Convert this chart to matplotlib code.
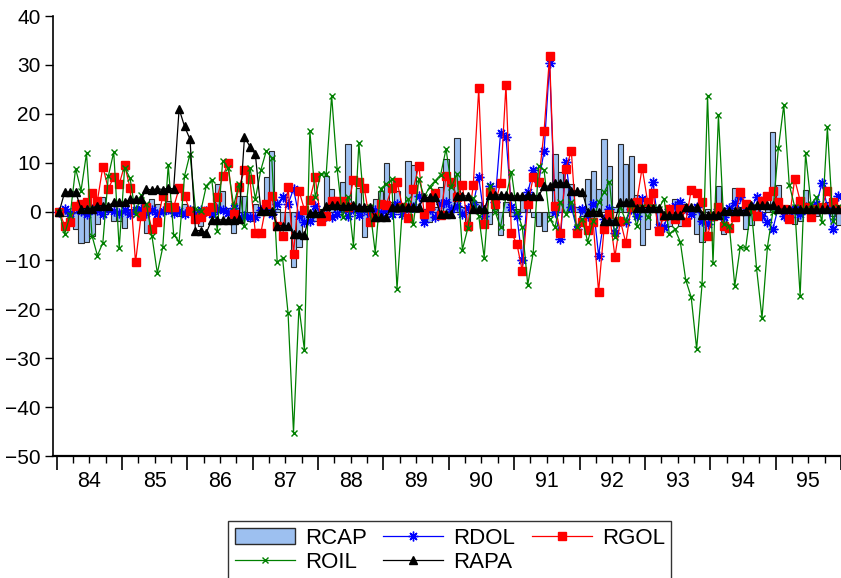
import numpy as np
import matplotlib.pyplot as plt
import matplotlib.patches as mpatches
from matplotlib.lines import Line2D

plt.rcParams['font.family'] = ['Liberation Sans', 'DejaVu Sans']

# monthly returns, Jan 1984 - Dec 1995
years = ['84', '85', '86', '87', '88', '89', '90', '91', '92', '93', '94', '95']

rcap = [0, -1, -1.5, -3.6, -6.4, -6.3, -5, -2.6, 3, 1, -2, -1.9,
        -3.4, 0.5, 1, -0.5, -4.3, 2.6, 1.5, 0.5, 2.2, 1, -0.9, 1.5,
        0.5, -1, -2.9, 1, 0.5, 5.6, 4.3, 0.8, -4.4, 3.2, 3.1, -1.9,
        1.5, 1, 7, 12.4, 0.5, -3, -3.5, -11.4, -7.3, -2.5, -0.5, -1.9,
        0.5, 7.2, 4.6, 1, 6.1, 13.8, 1.5, 4.9, -5.3, 1, 2.6, 4.3,
        9.9, 2, 4.3, 1, 10.4, 9.5, 1, 0.5, -2.2, 1, 5.1, 10.7,
        5.3, 15, 1, -2.6, 1.2, 1.9, 0.5, -2.6, 0.5, -4.8, 1.9, -1,
        0.5, 3.4, 1.2, -1.2, -2.9, -3.9, -1, 11.8, 8, 5.3, 5.6, 1,
        -1, 6.6, 8.2, 4.6, 14.8, 9.4, 1, 13.9, 9.7, 11.4, 3.4, -6.8,
        -3.6, 0.5, -2.6, -1, -2.9, 2.6, -2.9, 1.5, 0.5, -4.6, -6.3, 0.5,
        -1.2, 5.3, -4.6, 1, 4.9, 1, -3.6, -2.7, 1, -1, 1, 16.2,
        5.5, 1, 1, -2.6, -2, 4.4, 1, -1, 1, 2, -1, -2.8]

rdol = [0, 0.5, -0.3, 0.8, 0.2, -0.5, 0.6, 0.3, -0.4, 0.5, 0.2, -0.3,
        0.4, -0.6, 0.3, 0.5, -0.2, 0.4, -0.5, 0.2, 0.6, -0.3, 0.1, -0.4,
        0.3, -0.5, 0.4, 0.2, -0.6, 0.5, 0.3, -0.2, 0.8, -1.2, -1.0, -1.2,
        -1.2, 0.3, 0.5, -0.5, 1.5, 2.9, 1.5, 4.6, -0.9, -2.2, -1.9, 1.2,
        -0.9, -0.9, -1.2, -0.5, 0.8, -1.0, 0.5, -0.8, 0.6, -0.5, 0.3, -0.2,
        0.6, -0.4, 1.5, -0.5, 0.8, 1.0, 3.2, -2.2, 0.5, -1.2, 1.5, 1.9,
        0.5, 1.2, -0.5, 0.8, 1.5, 7, -1, 5.3, 2, 16, 15.3, 1,
        -0.9, -10, 3.9, 8.4, 6, 12.4, 30.4, 0, -5.6, 10.2, 1, -3.6,
        0.5, -1, 1.5, -9, -1.5, 0.5, -4.4, -2, -2.1, 0.5, -0.9, 2.6,
        1, 6, -3.2, -3.2, 0.5, 1.2, 2, 0.5, -0.5, 1, -1.9, -2.6,
        -1, 0.5, -1.2, 0.8, 1.7, 2.9, 1, 0.5, 2.9, -1, -2.2, -3.6,
        1, -0.9, -1.2, 0.5, -0.5, 1, 0.5, 1.5, 5.8, 1, -3.6, 3.2]

rgol = [0, -2.9, -2.2, 1.1, 1.5, 1.9, 3.7, 2.2, 9.2, 4.6, 7.1, 5.6,
        9.5, 4.8, -10.4, -1, 1, -3.6, -2.2, 3.2, 0.9, 0.9, 4.8, 3.2,
        0.2, -1.5, -1.2, 0.2, 1, 2.9, 7.2, 9.9, -0.5, 5.1, 8.4, 6.6,
        -4.4, -4.4, 1.5, 3.1, -3, -5.1, 5, -8.6, 4.3, 0.4, 2.4, 7,
        -1.9, -0.9, 2.1, 2.1, 2.2, 1.0, 6.5, 6.1, 4.8, -2.1, -1.2, 1.5,
        1.3, 4.8, 6.1, 1, -1.4, 4.6, 9.4, -0.5, 1.2, 3.8, -0.7, 7.2,
        6.1, 3, 5.4, -3, 5.4, 25.2, -2.6, 3.9, 1.5, 5.8, 25.9, -4.4,
        -6.6, -12.2, 1.5, 7, 6, 16.5, 31.8, 1.2, -4.3, 8.8, 12.4, -4.3,
        -2.1, -3.7, -2.1, -16.4, -3.6, -0.5, -9.2, -1.9, -6.4, 1, 2, 9,
        2, 3.8, -3.9, -1, 0.5, -1.5, 0.5, -2.1, 4.4, 3.8, 2, -4.9,
        -1, 1, -2.9, -3.4, -1.2, 3.9, 1.5, 0.5, -1, 2.2, 3.1, 4.3,
        1.9, 0.5, -1.5, 6.6, 2.2, 1, -1.2, 0.5, 1, 4.3, 1.9, 0.5]

roil = [0, -4.6, -0.7, 8.8, 4.3, 11.9, -4.9, -9.0, -6.4, 7.2, 12.2, -7.5,
        9.0, 6.8, -0.5, 3.4, 1.5, -4.9, -12.6, -7.3, 9.5, -4.7, -6.2, 7.3,
        11.8, 0.5, 0.2, 5.3, 6.5, -3.9, 10.4, 9, 1.2, 5.6, -2.9, 9,
        2.6, 8.5, 12.4, 11, -10.3, -9.6, -20.8, -45.2, -19.5, -28.3, 16.5, 2.9,
        7.7, 7.7, 23.7, 8.8, -1.2, 2.9, -7, 14, 0.5, 0.9, -8.4, 4.7,
        5.6, 6.6, -15.8, 1, 2.6, -2.6, 6.6, 3, 5.1, 6.3, 7.5, 12.8,
        5, 7.7, -7.8, -3.4, 2.7, -0.9, -9.4, 5.3, 0, -3.2, 3, 8.1,
        0, -3.2, -15, -8.4, 9.4, 8.4, -1.5, -3.2, 1.9, -0.5, 2, -3.2,
        -1.5, -6.2, -2, 1.9, 3.9, 6.1, -5.3, 1, -2, 1.5, -2.9, 1,
        -1.2, 1, 0.5, 2.6, -4.6, -3.6, -6.2, -14, -17.5, -28.1, -14.8, 23.7,
        -10.6, 19.7, -2.6, -2.9, -15.2, -7.3, -7.5, 1, -11.6, -21.8, -7.2, 0,
        12.9, 21.8, 5.5, 1, -17.2, 11.9, 1.5, 2.9, -2.2, 17.2, -1.9, 1]

rapa = [0, 4, 4, 4, 0.6, 0.6, 0.6, 1.2, 1.2, 1.2, 1.9, 1.9,
        1.9, 2.5, 2.5, 2.5, 4.6, 4.4, 4.7, 4.5, 4.8, 4.6, 21, 17.4,
        14.8, -3.9, -3.9, -4.3, -1.7, -1.7, -1.7, -1.7, -1.7, -1.6, 15.2, 13.3,
        11.7, 0.2, 0.2, 0.2, -2.9, -2.9, -2.9, -4.5, -4.5, -4.8, -0.2, -0.2,
        -0.2, 1.2, 1.3, 1.3, 1.2, 1.2, 1.3, 1.0, 1.0, 1.0, -1.2, -1.2,
        -1.2, 0.9, 0.9, 0.9, 0.9, 0.9, 0.9, 2.9, 2.9, 2.9, -0.6, -0.6,
        -0.6, 3.2, 3.2, 3.2, 0.5, 0.5, 0.5, 3.4, 3.4, 3.4, 3.4, 3.2,
        3.2, 3.1, 3.3, 3.2, 3.2, 5.2, 5.2, 5.9, 5.9, 5.8, 4.2, 4.2,
        4.1, 0, 0, 0, -1.9, -1.9, -1.9, 1.9, 1.9, 1.9, 0.8, 0.8,
        0.8, 0.8, 0.8, -0.7, -0.7, -0.7, -0.7, 0.9, 0.9, 0.9, -0.7, -0.7,
        -0.7, -0.7, 0.2, 0.2, 0.2, 0.2, 0.2, 1.3, 1.3, 1.3, 1.3, 1.3,
        0.5, 0.5, 0.5, 0.5, 0.5, 0.5, 0.5, 0.5, 0.5, 0.5, 0.5, 0.5]

t = np.arange(len(rcap))

fig = plt.figure(figsize=(8.41, 5.78), dpi=100)
ax = fig.add_axes([53 / 841, 122 / 578, 788 / 841, 440 / 578])

bar_col = '#9dc0f0'
ax.bar(t, rcap, width=0.95, color=bar_col, edgecolor='#2a2a2a', linewidth=0.8, zorder=2)
ax.axhline(0, color='#303030', linewidth=0.6, zorder=1)

ast = (8, 2, 0)
ax.plot(t, rdol, color='blue', lw=0.9, marker=ast, ms=7, mew=1.0, zorder=3)
ax.plot(t, rgol, color='red', lw=0.9, marker='s', ms=5.5, zorder=4)
ax.plot(t, roil, color='green', lw=0.9, marker='x', ms=5, mew=1.0, zorder=5)
ax.plot(t, rapa, color='black', lw=0.9, marker='^', ms=6, zorder=6)

ax.set_xlim(-1.15, 143.3)
ax.set_ylim(-50, 40)
ax.set_yticks(np.arange(-50, 41, 10))
ax.tick_params(axis='y', direction='out', length=6, labelsize=15, width=1, pad=3)

ax.set_xticks(np.arange(0, 145, 12) - 0.5)
ax.set_xticks(np.arange(0, 145, 3) - 0.5, minor=True)
ax.tick_params(axis='x', which='major', direction='out', length=10, width=1.2, labelbottom=False)
ax.tick_params(axis='x', which='minor', direction='out', length=5, width=1)
for k, lab in enumerate(years):
    ax.text(12 * k + 5.5, -0.035, lab, transform=ax.get_xaxis_transform(),
            ha='center', va='top', fontsize=15.5)

ax.spines['top'].set_visible(False)
ax.spines['right'].set_visible(False)
ax.spines['left'].set_linewidth(1.2)
ax.spines['bottom'].set_linewidth(1.6)

handles = [
    mpatches.Patch(facecolor=bar_col, edgecolor='#2a2a2a', label='RCAP'),
    Line2D([], [], color='green', lw=0.9, marker='x', ms=5, label='ROIL'),
    Line2D([], [], color='blue', lw=0.9, marker=ast, ms=7, label='RDOL'),
    Line2D([], [], color='black', lw=0.9, marker='^', ms=6, label='RAPA'),
    Line2D([], [], color='red', lw=0.9, marker='s', ms=5.5, label='RGOL'),
]
leg = fig.legend(handles=handles, ncol=3, loc='upper left', bbox_to_anchor=(228 / 841, 1 - 521 / 578),
                 fontsize=16, numpoints=1, handlelength=2.7, handleheight=0.7,
                 handletextpad=0.45, columnspacing=0.75, labelspacing=0.15, borderpad=0.3,
                 borderaxespad=0, frameon=True, fancybox=False, edgecolor='black')
leg.get_frame().set_linewidth(1.0)

fig.savefig('out.png', dpi=100)
